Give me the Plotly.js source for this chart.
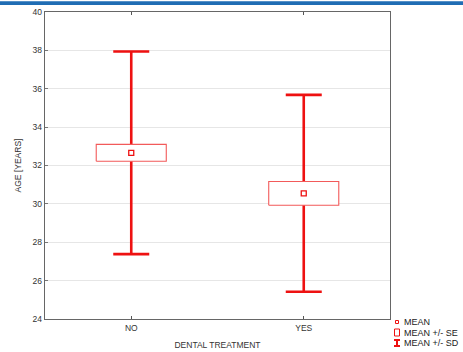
<!DOCTYPE html>
<html><head><meta charset="utf-8">
<script src="https://cdn.plot.ly/plotly-3.0.1.min.js"></script>
<style>html,body{margin:0;padding:0;background:#fff}#c{width:463px;height:352px}</style>
</head><body><div id="c"></div>
<script>
const categories = ["NO", "YES"];
const means = [32.66, 30.55];
const se = [0.44, 0.62];
const sd = [5.28, 5.13];
const yTicks = [24, 26, 28, 30, 32, 34, 36, 38, 40];

const RED = '#ee1111';
const xs = categories.map((c, i) => i);
const HW = 0.203;

const traces = [];
// SD whiskers
traces.push({
  type: 'scatter', mode: 'none', x: xs, y: means, showlegend: false, hoverinfo: 'skip',
  error_y: {type: 'data', array: sd, symmetric: true, color: RED, thickness: 2.6, width: 18}
});
// SE boxes
xs.forEach((x, i) => {
  traces.push({
    type: 'scatter', mode: 'lines', fill: 'toself', fillcolor: '#ffffff',
    x: [x - HW, x + HW, x + HW, x - HW, x - HW],
    y: [means[i] - se[i], means[i] - se[i], means[i] + se[i], means[i] + se[i], means[i] - se[i]],
    line: {color: '#f25a5a', width: 1.1}, showlegend: false, hoverinfo: 'skip'
  });
});
// means
traces.push({
  type: 'scatter', mode: 'markers', x: xs, y: means, showlegend: false,
  marker: {symbol: 'square-open', size: 5, color: RED, line: {width: 1.3, color: RED}}
});

const font = {family: 'Liberation Sans, Arial, sans-serif', size: 8, color: '#333'};
const plotTopPx = 12, plotH = 307;
const py = px => 1 - (px - plotTopPx) / plotH; // paper y from pixel y

const shapes = [
  {type: 'rect', xref: 'paper', yref: 'paper', x0: -0.2, x1: 1.3, y0: py(5), y1: py(1.2),
   fillcolor: '#1f6db4', line: {width: 0}, layer: 'above'},
  // legend symbols
  {type: 'rect', xref: 'paper', yref: 'paper', x0: (395.5-45)/345, x1: (398.5-45)/345, y0: py(323.5), y1: py(320.5),
   fillcolor: 'rgba(0,0,0,0)', line: {color: RED, width: 1}},
  {type: 'rect', xref: 'paper', yref: 'paper', x0: (394.5-45)/345, x1: (399.5-45)/345, y0: py(336), y1: py(329),
   fillcolor: 'rgba(0,0,0,0)', line: {color: RED, width: 1}},
  {type: 'line', xref: 'paper', yref: 'paper', x0: (397-45)/345, x1: (397-45)/345, y0: py(346.5), y1: py(339),
   line: {color: RED, width: 2}},
  {type: 'line', xref: 'paper', yref: 'paper', x0: (394-45)/345, x1: (400-45)/345, y0: py(340), y1: py(340),
   line: {color: RED, width: 2}},
  {type: 'line', xref: 'paper', yref: 'paper', x0: (394-45)/345, x1: (400-45)/345, y0: py(346), y1: py(346),
   line: {color: RED, width: 2}}
];
const legTexts = ['MEAN', 'MEAN +/- SE', 'MEAN +/- SD'];
const legY = [322, 332.5, 342.5];
const annotations = legTexts.map((t, i) => ({
  xref: 'paper', yref: 'paper', x: (402-45)/345, y: py(legY[i]), xanchor: 'left', yanchor: 'middle',
  text: t, showarrow: false, font: {family: font.family, size: 9, color: '#222'}
}));

const layout = {
  width: 463, height: 352,
  margin: {l: 45, r: 73, t: 12, b: 33},
  paper_bgcolor: '#fff', plot_bgcolor: '#fff',
  showlegend: false,
  font: font,
  xaxis: {
    range: [-0.5, 1.5], tickvals: xs, ticktext: categories, showgrid: false, zeroline: false,
    ticks: 'inside', ticklen: 3, tickcolor: '#555', mirror: 'ticks', showline: true, linecolor: '#666', linewidth: 1.3,
    tickfont: {family: font.family, size: 8.5, color: '#333'},
    title: {text: 'DENTAL TREATMENT', font: {family: font.family, size: 8.5, color: '#333'}, standoff: 10}
  },
  yaxis: {
    range: [24, 40], tickvals: yTicks, showgrid: true, gridcolor: '#e6e6e6', gridwidth: 1, zeroline: false,
    ticks: 'inside', ticklen: 3, tickcolor: '#777', mirror: true, showline: true, linecolor: '#666', linewidth: 1.3,
    tickfont: {family: font.family, size: 8.5, color: '#333'},
    title: {text: 'AGE [YEARS]', font: {family: font.family, size: 8.5, color: '#333'}, standoff: 9}
  },
  shapes: shapes,
  annotations: annotations
};

Plotly.newPlot('c', traces, layout, {displayModeBar: false, staticPlot: true});
</script></body></html>
